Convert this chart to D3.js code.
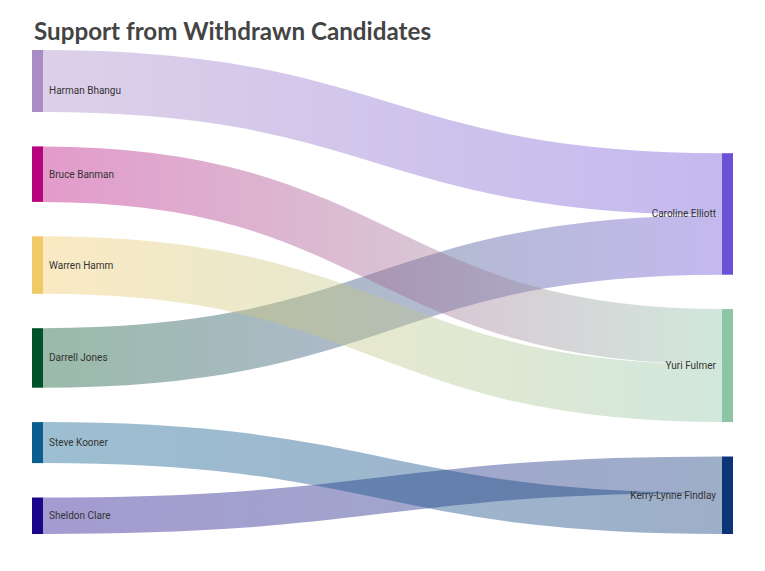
<!DOCTYPE html>
<html>
<head>
<meta charset="utf-8">
<script src="https://cdn.jsdelivr.net/npm/d3@7"></script>
<style>
  body { margin: 0; background: #fff; }
  .title { font-family: Lato, "Open Sans", sans-serif; font-weight: 700; font-size: 24.2px; fill: #444; }
  .label { font-family: Roboto, "Noto Sans", sans-serif; font-size: 10px; fill: #333; }
</style>
</head>
<body>
<div id="chart"></div>
<script>
// Withdrawn candidates (left column) and the candidate each one backed (right column)
const sources = ["Harman Bhangu", "Bruce Banman", "Warren Hamm", "Darrell Jones", "Steve Kooner", "Sheldon Clare"];
const sourceColors = ["#a98bc6", "#b8047c", "#f0c968", "#02532a", "#0a5f8e", "#1c058b"];
const targets = ["Caroline Elliott", "Yuri Fulmer", "Kerry-Lynne Findlay"];
const targetColors = ["#6c50d6", "#8cc4a6", "#0b3577"];

// Flows, listed in the order they stack on the receiving candidate
const linkSource = ["Harman Bhangu", "Darrell Jones", "Bruce Banman", "Warren Hamm", "Sheldon Clare", "Steve Kooner"];
const linkTarget = ["Caroline Elliott", "Caroline Elliott", "Yuri Fulmer", "Yuri Fulmer", "Kerry-Lynne Findlay", "Kerry-Lynne Findlay"];
const linkValue = [62, 59.5, 55.5, 57.5, 36.5, 41];

const width = 765, height = 571;
const nodeWidth = 11, nodePadding = 34.4;
const extentTop = 50, extentBottom = 534;
const labelMinY = 90; // keep labels clear of the title

const svg = d3.select("#chart")
  .append("svg")
  .attr("width", width)
  .attr("height", height);

svg.append("text")
  .attr("class", "title")
  .attr("x", 34)
  .attr("y", 40)
  .text("Support from Withdrawn Candidates");

// column positions
const x = d3.scaleLinear().domain([0, 1]).range([32, 722]);

// build nodes
const nodes = [];
sources.forEach((name, i) => nodes.push({ name, col: 0, color: sourceColors[i], value: 0 }));
targets.forEach((name, i) => nodes.push({ name, col: 1, color: targetColors[i], value: 0 }));
const byName = new Map(nodes.map((n) => [n.name, n]));

const links = linkValue.map((v, i) => ({
  source: byName.get(linkSource[i]),
  target: byName.get(linkTarget[i]),
  value: v,
}));
links.forEach((l) => {
  l.source.value += l.value;
  l.target.value += l.value;
});

// value -> pixel scale, taken from the tallest column
const columns = [0, 1].map((c) => nodes.filter((n) => n.col === c));
const ky = d3.min(columns, (col) => (extentBottom - extentTop - (col.length - 1) * nodePadding) / d3.sum(col, (n) => n.value));
const h = d3.scaleLinear().domain([0, 1]).range([0, ky]);

// stack each column, aligned to the bottom
columns.forEach((col) => {
  const total = d3.sum(col, (n) => h(n.value)) + (col.length - 1) * nodePadding;
  let y = extentBottom - total;
  col.forEach((n) => {
    n.x0 = x(n.col);
    n.x1 = n.x0 + nodeWidth;
    n.y0 = y;
    n.y1 = y + h(n.value);
    n.sy = n.y0;
    n.ty = n.y0;
    y = n.y1 + nodePadding;
  });
});

links.forEach((l) => {
  l.width = h(l.value);
  l.y0 = l.source.sy + l.width / 2;
  l.source.sy += l.width;
  l.y1 = l.target.ty + l.width / 2;
  l.target.ty += l.width;
});

// gradients from source colour to target colour
const defs = svg.append("defs");
links.forEach((l, i) => {
  const g = defs.append("linearGradient")
    .attr("id", "grad" + i)
    .attr("gradientUnits", "userSpaceOnUse")
    .attr("x1", l.source.x1)
    .attr("x2", l.target.x0);
  g.append("stop").attr("offset", "0%").attr("stop-color", l.source.color);
  g.append("stop").attr("offset", "100%").attr("stop-color", l.target.color);
});

const linkPath = d3.linkHorizontal()
  .source((d) => [d.source.x1, d.y0])
  .target((d) => [d.target.x0, d.y1]);

svg.append("g")
  .attr("fill", "none")
  .selectAll("path")
  .data(links)
  .join("path")
  .attr("d", linkPath)
  .attr("stroke", (d, i) => `url(#grad${i})`)
  .attr("stroke-opacity", 0.4)
  .attr("stroke-width", (d) => d.width);

svg.append("g")
  .selectAll("rect")
  .data(nodes)
  .join("rect")
  .attr("x", (d) => d.x0)
  .attr("y", (d) => d.y0)
  .attr("width", (d) => d.x1 - d.x0)
  .attr("height", (d) => d.y1 - d.y0)
  .attr("fill", (d) => d.color);

svg.append("g")
  .selectAll("text")
  .data(nodes)
  .join("text")
  .attr("class", "label")
  .attr("x", (d) => (d.col === 0 ? d.x1 + 6 : d.x0 - 6))
  .attr("y", (d) => Math.max(labelMinY, (d.y0 + d.y1) / 2))
  .attr("dy", "0.35em")
  .attr("text-anchor", (d) => (d.col === 0 ? "start" : "end"))
  .text((d) => d.name);
</script>
</body>
</html>
